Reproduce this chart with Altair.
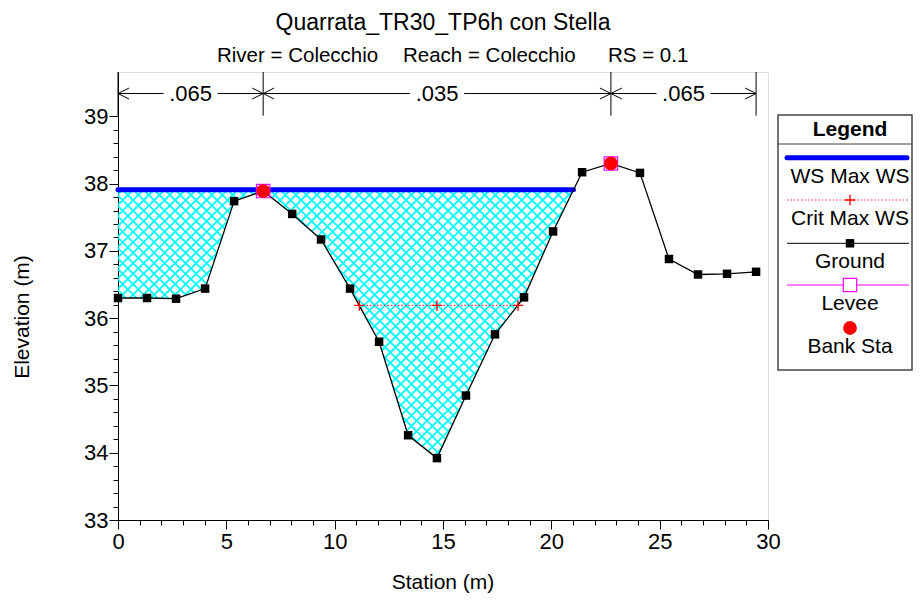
import altair as alt
import pandas as pd
import numpy as np

# ---------------- text ----------------
TITLE = "Quarrata_TR30_TP6h con Stella"
SUB_PARTS = ["River = Colecchio", "Reach = Colecchio", "RS = 0.1"]
X_TITLE = "Station (m)"
Y_TITLE = "Elevation (m)"
LEGEND_TITLE = "Legend"
legend_items = ["WS Max WS", "Crit Max WS", "Ground", "Levee", "Bank Sta"]

# ---------------- data ----------------
ground_station = [0.0, 1.34, 2.68, 4.02, 5.36, 6.70, 8.04, 9.37, 10.71, 12.05, 13.39, 14.72,
                  16.06, 17.40, 18.74, 20.08, 21.42, 22.75, 24.09, 25.43, 26.77, 28.11, 29.45]
ground_elev = [36.30, 36.30, 36.29, 36.44, 37.74, 37.89, 37.55, 37.17, 36.44, 35.65, 34.26, 33.92,
               34.85, 35.76, 36.31, 37.29, 38.17, 38.30, 38.16, 36.88, 36.65, 36.66, 36.69]
ws_station = [0.0, 21.02]
ws_elev = 37.91
crit_station = [11.14, 14.72, 18.46]
crit_elev = 36.19
bank_station = [6.70, 22.75]
bank_elev = [37.89, 38.30]
levee_station = [6.70, 22.75]
levee_elev = [37.89, 38.30]
n_bounds = [0.0, 6.70, 22.75, 29.45]
n_values = [".065", ".035", ".065"]
n_row_elev = 39.34
n_line_top = 39.66
n_line_bottom = 39.01

X_DOMAIN = [0, 30]
Y_DOMAIN = [33, 39.66]
x_ticks = list(range(0, 31))
y_ticks = [round(33 + 0.2 * i, 1) for i in range(31)]

# ---------------- layout ----------------
W, H = 650, 448
FONT = "Liberation Sans"
kx = W / (X_DOMAIN[1] - X_DOMAIN[0])
ky = H / (Y_DOMAIN[1] - Y_DOMAIN[0])

xscale = alt.Scale(domain=X_DOMAIN, nice=False, zero=False)
yscale = alt.Scale(domain=Y_DOMAIN, nice=False, zero=False)

Y_MAJOR = "abs(datum.value - round(datum.value)) < 0.001"
xaxis = alt.Axis(values=x_ticks, title=None, grid=False,
                 labelExpr="datum.value % 5 === 0 ? format(datum.value, 'd') : ''",
                 tickSize={"condition": {"test": "datum.value % 5 === 0", "value": 9}, "value": 5},
                 labelFontSize=22, labelPadding=2, labelFont=FONT, labelColor="black",
                 domainColor="black", tickColor="black", labelFlush=False, labelOverlap=False)
yaxis = alt.Axis(values=y_ticks, title=None, grid=False,
                 labelExpr=f"{Y_MAJOR} ? format(datum.value, '.0f') : ''",
                 tickSize={"condition": {"test": Y_MAJOR, "value": 9}, "value": 5},
                 labelFontSize=22, labelPadding=1, labelFont=FONT, labelColor="black",
                 domainColor="black", tickColor="black", labelFlush=False, labelOverlap=False)


def X(f="x"):
    return alt.X(f"{f}:Q", scale=xscale, axis=xaxis)


def Y(f="y"):
    return alt.Y(f"{f}:Q", scale=yscale, axis=yaxis)


# ---------------- hatch of the wetted area ----------------
x_right = ws_station[1]
u = np.linspace(0, x_right * kx, 6000)
xs = u / kx
g = np.interp(xs, ground_station, ground_elev)
vg = (ws_elev - g) * ky
spacing = 10.5
segs = []
vmax = float(vg.max())
for sign in (1, -1):
    for c in np.arange(-vmax - spacing, u[-1] + vmax + spacing, spacing):
        v = (u - c) if sign == 1 else (c - u)
        inside = (v >= 0) & (v <= vg)
        d = np.diff(inside.astype(int))
        starts = list(np.where(d == 1)[0] + 1)
        ends = list(np.where(d == -1)[0])
        if inside[0]:
            starts = [0] + starts
        if inside[-1]:
            ends = ends + [len(u) - 1]
        for s, e in zip(starts, ends):
            if e > s:
                segs.append({"x": xs[s], "y": ws_elev - v[s] / ky,
                             "x2": xs[e], "y2": ws_elev - v[e] / ky})
hatch_df = pd.DataFrame(segs)

hatch = alt.Chart(hatch_df).mark_rule(color="#00FFFF", strokeWidth=1.8).encode(
    x=X(), y=Y(), x2="x2:Q", y2="y2:Q")

ws_df = pd.DataFrame({"x": ws_station, "y": [ws_elev] * len(ws_station)})
ws_line = alt.Chart(ws_df).mark_line(color="#0000FF", strokeWidth=5, strokeCap="round").encode(x=X(), y=Y())

ground_df = pd.DataFrame({"x": ground_station, "y": ground_elev})
ground_line = alt.Chart(ground_df).mark_line(color="black", strokeWidth=1.3).encode(x=X(), y=Y())
ground_pts = alt.Chart(ground_df).mark_point(shape="square", filled=True, color="black", size=72, opacity=1).encode(x=X(), y=Y())

crit_df = pd.DataFrame({"x": crit_station, "y": [crit_elev] * len(crit_station)})
crit_line = alt.Chart(crit_df).mark_line(color="#FF3030", strokeWidth=1.2, strokeDash=[1.5, 2]).encode(x=X(), y=Y())
PLUS = "M-1,0L1,0M0,-1L0,1"
crit_pts = alt.Chart(crit_df).mark_point(shape=PLUS, filled=False, color="red", size=110, strokeWidth=1.4, opacity=1).encode(x=X(), y=Y())

levee_df = pd.DataFrame({"x": levee_station, "y": levee_elev})
levee_pts = alt.Chart(levee_df).mark_point(shape="square", filled=False, color="#FF00FF", size=180, strokeWidth=1.2, opacity=1).encode(x=X(), y=Y())

bank_df = pd.DataFrame({"x": bank_station, "y": bank_elev})
bank_pts = alt.Chart(bank_df).mark_point(shape="circle", filled=True, color="red", size=190, opacity=1).encode(x=X(), y=Y())

# ---------------- Manning's n annotation ----------------
gap = 27 / kx
bound_df = pd.DataFrame({"x": n_bounds, "y": [n_line_bottom] * len(n_bounds), "y2": [n_line_top] * len(n_bounds)})
bounds = alt.Chart(bound_df).mark_rule(color="black", strokeWidth=1).encode(x=X(), y=Y(), y2="y2:Q")

seg_rows, lab_rows, ltip, rtip = [], [], [], []
for i, lab in enumerate(n_values):
    a, b = n_bounds[i], n_bounds[i + 1]
    m = (a + b) / 2
    seg_rows.append({"x": a, "x2": m - gap, "y": n_row_elev})
    seg_rows.append({"x": m + gap, "x2": b, "y": n_row_elev})
    lab_rows.append({"x": m, "y": n_row_elev, "t": lab})
    ltip.append({"x": a, "y": n_row_elev})
    rtip.append({"x": b, "y": n_row_elev})
arrows = alt.Chart(pd.DataFrame(seg_rows)).mark_rule(color="black", strokeWidth=1).encode(x=X(), x2="x2:Q", y=Y())
n_text = alt.Chart(pd.DataFrame(lab_rows)).mark_text(fontSize=22, baseline="middle", align="center", color="black").encode(
    x=X(), y=Y(), text="t:N")
ltips = alt.Chart(pd.DataFrame(ltip)).mark_point(shape="M2,-1L0,0L2,1", filled=False, color="black", size=121, strokeWidth=1, opacity=1).encode(x=X(), y=Y())
rtips = alt.Chart(pd.DataFrame(rtip)).mark_point(shape="M-2,-1L0,0L-2,1", filled=False, color="black", size=121, strokeWidth=1, opacity=1).encode(x=X(), y=Y())

# ---------------- titles ----------------
one = pd.DataFrame({"k": [0]})
title = alt.Chart(one).mark_text(fontSize=23, align="center", baseline="alphabetic", color="black").encode(
    x=alt.value(W / 2), y=alt.value(-42), text=alt.value(TITLE))
sub_x = [99, 285, 490]
subs = [alt.Chart(one).mark_text(fontSize=20.5, align="left", baseline="alphabetic", color="black").encode(
    x=alt.value(sx), y=alt.value(-10), text=alt.value(s)) for sx, s in zip(sub_x, SUB_PARTS)]
xtitle = alt.Chart(one).mark_text(fontSize=21, align="center", baseline="alphabetic", color="black").encode(
    x=alt.value(W / 2), y=alt.value(517), text=alt.value(X_TITLE))
ytitle = alt.Chart(one).mark_text(fontSize=21, align="center", baseline="alphabetic", angle=270, color="black").encode(
    x=alt.value(-89), y=alt.value(245), text=alt.value(Y_TITLE))

# ---------------- legend (drawn) ----------------
LX0, LX1, LC = 660, 794, 732
box = alt.Chart(one).mark_rect(fill="white", stroke="#444", strokeWidth=1.5).encode(
    x=alt.value(LX0), x2=alt.value(LX1), y=alt.value(43), y2=alt.value(298))
sep = alt.Chart(one).mark_rule(color="#444", strokeWidth=1.2).encode(
    x=alt.value(LX0), x2=alt.value(LX1), y=alt.value(72))
leg_title = alt.Chart(one).mark_text(fontSize=21, fontWeight="bold", align="center", baseline="alphabetic", color="black").encode(
    x=alt.value(LC), y=alt.value(64), text=alt.value(LEGEND_TITLE))
line_y = [85.7, 128, 171.3, 213, 256]
text_y = [110.7, 153, 196, 238, 281]
leg_texts = [alt.Chart(one).mark_text(fontSize=21, align="center", baseline="alphabetic", color="black").encode(
    x=alt.value(LC), y=alt.value(ty), text=alt.value(t)) for t, ty in zip(legend_items, text_y)]
LL0, LL1 = 669, 791
leg_ws = alt.Chart(one).mark_rule(color="#0000FF", strokeWidth=5, strokeCap="round").encode(
    x=alt.value(LL0), x2=alt.value(LL1 - 2), y=alt.value(line_y[0]))
leg_crit = alt.Chart(one).mark_rule(color="#FF3030", strokeWidth=1.2, strokeDash=[1.5, 2]).encode(
    x=alt.value(LL0), x2=alt.value(LL1), y=alt.value(line_y[1]))
leg_crit_pt = alt.Chart(one).mark_point(shape=PLUS, filled=False, color="red", size=110, strokeWidth=1.4, opacity=1).encode(
    x=alt.value(LC), y=alt.value(line_y[1]))
leg_gr = alt.Chart(one).mark_rule(color="#333", strokeWidth=1.3).encode(
    x=alt.value(LL0), x2=alt.value(LL1), y=alt.value(line_y[2]))
leg_gr_pt = alt.Chart(one).mark_point(shape="square", filled=True, color="black", size=72, opacity=1).encode(
    x=alt.value(LC), y=alt.value(line_y[2]))
leg_lv = alt.Chart(one).mark_rule(color="#FF00FF", strokeWidth=1.2).encode(
    x=alt.value(LL0), x2=alt.value(LL1), y=alt.value(line_y[3]))
leg_lv_pt = alt.Chart(one).mark_point(shape="square", filled=True, fill="white", stroke="#FF00FF", size=180, strokeWidth=1.2, opacity=1).encode(
    x=alt.value(LC), y=alt.value(line_y[3]))
leg_bk_pt = alt.Chart(one).mark_point(shape="circle", filled=True, color="red", size=190, opacity=1).encode(
    x=alt.value(LC), y=alt.value(line_y[4]))

chart = alt.layer(
    hatch, ws_line, ground_line, crit_line, crit_pts, ground_pts, levee_pts, bank_pts,
    bounds, arrows, ltips, rtips, n_text,
    title, *subs, xtitle, ytitle,
    box, sep, leg_title, *leg_texts, leg_ws, leg_crit, leg_crit_pt, leg_gr, leg_gr_pt, leg_lv, leg_lv_pt, leg_bk_pt,
).properties(
    width=W, height=H,
    autosize=alt.AutoSizeParams(type="none"),
    padding={"left": 110, "top": 64, "right": 145, "bottom": 74},
    background="white",
).configure_view(stroke=None).configure(font=FONT)

chart.save("out.html", embed_options={"renderer": "svg", "actions": False})
